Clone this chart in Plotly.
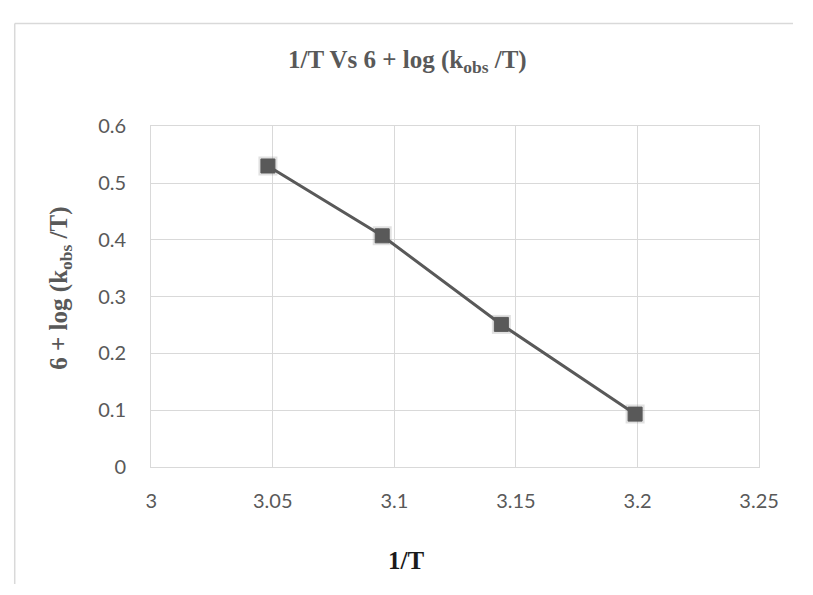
import plotly.graph_objects as go

# Data
inv_T = [3.048, 3.095, 3.144, 3.199]
log_k = [0.530, 0.407, 0.251, 0.093]

x_ticks = [3, 3.05, 3.1, 3.15, 3.2, 3.25]
y_ticks = [0, 0.1, 0.2, 0.3, 0.4, 0.5, 0.6]

title_text = "<b>1/T Vs 6 + log (k<sub>obs</sub> /T)</b>"
x_title = "<b>1/T</b>"
y_title = "<b>6 + log (k<sub>obs</sub> /T)</b>"

W, H = 813, 595
GRAY = "#595959"
GRID = "#d9d9d9"
SERIF = "Liberation Serif, Times New Roman, serif"
SANS = "Lato, Open Sans, sans-serif"

fig = go.Figure()
# soft shadow under markers
fig.add_trace(go.Scatter(
    x=inv_T, y=log_k, mode="markers",
    marker=dict(symbol="square", size=19, color="rgba(89,89,89,0.18)", line=dict(width=0)),
    hoverinfo="skip", showlegend=False,
))
fig.add_trace(go.Scatter(
    x=inv_T, y=log_k, mode="lines+markers",
    line=dict(color=GRAY, width=3),
    marker=dict(symbol="square", size=14, color=GRAY, line=dict(width=1, color=GRAY)),
    showlegend=False,
))

fig.update_layout(
    autosize=True,
    margin=dict(l=0, r=0, t=0, b=0),
    paper_bgcolor="white", plot_bgcolor="white",
    xaxis=dict(
        domain=[150 / W, 778 / W],
        range=[3, 3.25], tickvals=x_ticks,
        showgrid=True, gridcolor=GRID, gridwidth=1,
        showline=True, mirror=True, linecolor=GRID, linewidth=1,
        zeroline=False,
        ticks="outside", ticklen=16, tickcolor="rgba(0,0,0,0)",
        tickfont=dict(family=SANS, size=20, color=GRAY),
    ),
    yaxis=dict(
        domain=[(H - 473) / H, (H - 118) / H],
        range=[0, 0.6], tickvals=y_ticks,
        showgrid=True, gridcolor=GRID, gridwidth=1,
        showline=True, mirror=True, linecolor=GRID, linewidth=1,
        zeroline=False,
        ticks="outside", ticklen=20, tickcolor="rgba(0,0,0,0)",
        tickfont=dict(family=SANS, size=20, color=GRAY),
    ),
    annotations=[
        dict(text=title_text, x=415 / W, y=(H - 51) / H, xref="paper", yref="paper",
             showarrow=False, xanchor="center", yanchor="middle",
             font=dict(family=SERIF, size=25, color=GRAY)),
        dict(text=x_title, x=413 / W, y=(H - 571) / H, xref="paper", yref="paper",
             showarrow=False, xanchor="center", yanchor="middle",
             font=dict(family=SERIF, size=25, color="#1a1a1a")),
        dict(text=y_title, x=56 / W, y=(H - 287) / H, xref="paper", yref="paper",
             showarrow=False, xanchor="center", yanchor="middle", textangle=-90,
             font=dict(family=SERIF, size=25, color=GRAY)),
    ],
    shapes=[
        dict(type="line", xref="paper", yref="paper", x0=9 / W, x1=1.0,
             y0=(H - 11) / H, y1=(H - 11) / H, line=dict(color=GRID, width=1.5)),
        dict(type="line", xref="paper", yref="paper", x0=9 / W, x1=9 / W,
             y0=0, y1=(H - 11) / H, line=dict(color=GRID, width=1.5)),
    ],
)

fig.write_html(
    "out.html",
    default_width="100vw",
    default_height="100vh",
    config={"displayModeBar": False, "responsive": True},
    post_script="document.body.style.margin='0';document.body.style.overflow='hidden';",
)
